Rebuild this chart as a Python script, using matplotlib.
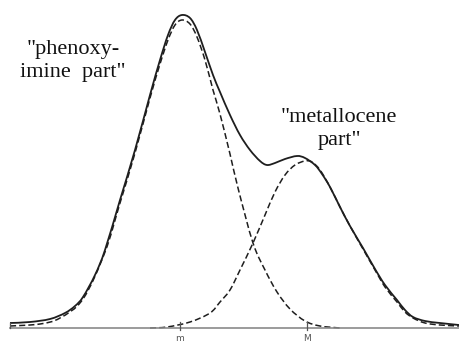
import numpy as np
import matplotlib
matplotlib.use("Agg")
import matplotlib.pyplot as plt
from matplotlib.path import Path
from matplotlib.patches import PathPatch

# positions along the elution axis and signal heights
sum_x = [10, 30, 50, 65, 75, 83, 95, 105, 120, 135, 150, 160, 168, 175, 182,
         190, 197, 205, 213, 220, 230, 240, 250, 260, 267, 275, 285, 297, 305,
         315, 322, 330, 340, 350, 363, 375, 385, 397, 405, 413, 425, 440, 459]
sum_h = [5, 6, 9, 15, 22, 31, 53, 78, 128, 178, 233, 268, 293, 308, 313,
         310, 298, 276, 253, 236, 213, 193, 178, 167, 163, 165, 169, 172, 170,
         163, 154, 141, 121, 102, 80, 59, 43, 28, 18, 11, 7, 5, 3]

pi_x = [10, 40, 60, 83, 105, 120, 135, 150, 160, 168, 175, 182, 190, 197,
        205, 213, 220, 230, 238, 253, 265, 277, 290, 305, 320, 340]
pi_h = [2, 4, 10, 29, 76, 125, 175, 230, 264, 288, 303, 308, 304, 291,
        268, 238, 214, 174, 140, 85, 58, 36, 19, 7, 2, 0]

mc_x = [150, 167, 190, 210, 220, 230, 240, 253, 265, 275, 285, 295, 305,
        312, 320, 330, 340, 350, 363, 375, 385, 397, 405, 413, 425, 440, 459]
mc_h = [0, 1, 6, 15, 26, 38, 58, 85, 113, 136, 153, 163, 167,
        166, 158, 141, 121, 102, 79, 58, 41, 26, 16, 10, 5, 3, 2]

tick_pos = [180, 307]
tick_labels = ["m", "M"]


def smooth_path(xs, ys):
    # Catmull-Rom through the read points, drawn as cubic Bezier segments
    p = np.column_stack([xs, ys]).astype(float)
    p = np.vstack([p[0], p, p[-1]])
    verts = [p[1]]
    codes = [Path.MOVETO]
    for i in range(1, len(p) - 2):
        c1 = p[i] + (p[i + 1] - p[i - 1]) / 6
        c2 = p[i + 1] - (p[i + 2] - p[i]) / 6
        verts += [c1, c2, p[i + 1]]
        codes += [Path.CURVE4] * 3
    return Path(verts, codes)


fig = plt.figure(figsize=(4.59, 3.42), dpi=100)
ax = fig.add_axes([0, 0, 1, 1])
ax.set_xlim(0, 459)
ax.set_ylim(-14, 328)
ax.axis("off")

ink = "#1e1e1e"
ax.add_patch(PathPatch(smooth_path(sum_x, sum_h), fill=False, ec=ink, lw=1.3))
ax.add_patch(PathPatch(smooth_path(pi_x, pi_h), fill=False, ec=ink, lw=1.1,
                       ls=(0, (4, 2))))
ax.add_patch(PathPatch(smooth_path(mc_x, mc_h), fill=False, ec=ink, lw=1.1,
                       ls=(0, (4, 2))))

# baseline and ticks
ax.plot([10, 459], [0, 0], color="#8a8a8a", lw=1.2)
ax.plot([10, 10], [0, 5], color="#555555", lw=0.9)
for p, lab in zip(tick_pos, tick_labels):
    ax.plot([p, p], [-2, 6], color="#555555", lw=0.9)
    ax.text(p, -6, lab, ha="center", va="top", fontsize=6.5,
            color="#555555", family="DejaVu Sans")

serif = ["Liberation Serif", "DejaVu Serif"]
ax.text(73, 267, '"phenoxy-\nimine  part"', ha="center", va="center",
        fontsize=16, family=serif, linespacing=1.3, color="#111111")
ax.text(339, 199, '"metallocene\npart"', ha="center", va="center",
        fontsize=16, family=serif, linespacing=1.3, color="#111111")

fig.savefig("out.png", dpi=100)
